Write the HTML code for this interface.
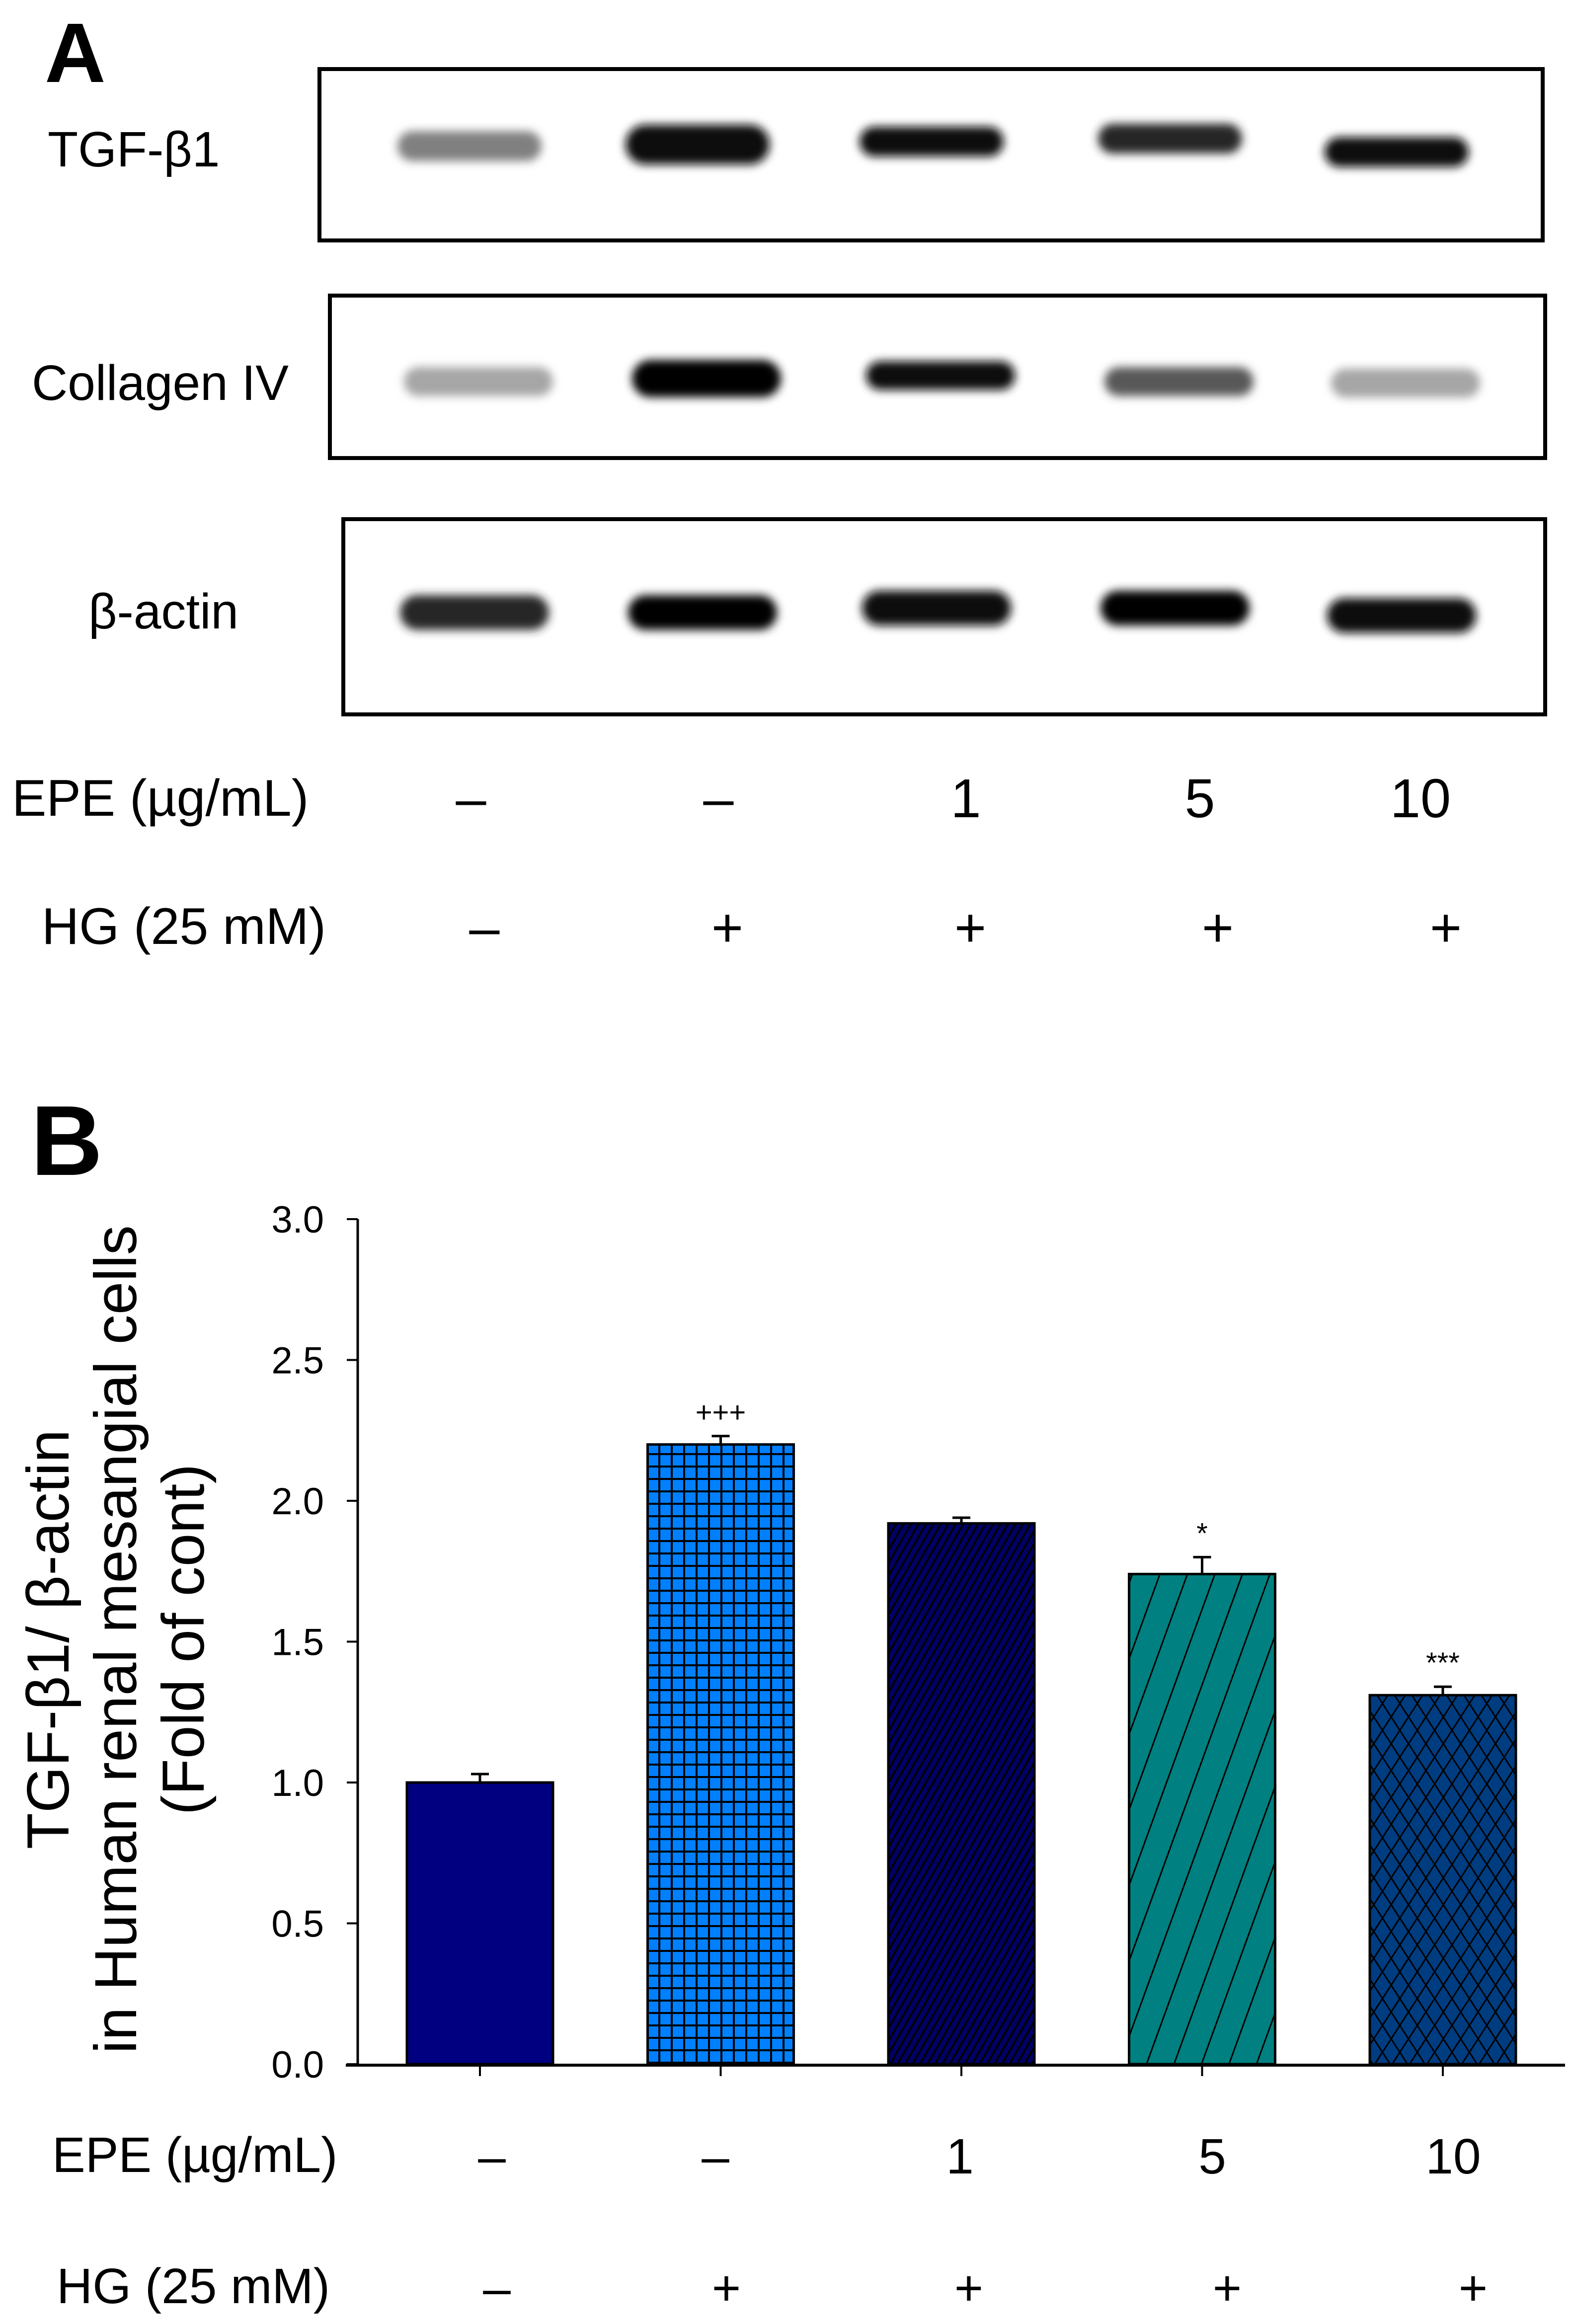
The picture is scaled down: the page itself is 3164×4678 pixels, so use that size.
<!DOCTYPE html>
<html><head><meta charset="utf-8"><style>
html,body{margin:0;padding:0;background:#fff}
svg{display:block}
text{font-family:"Liberation Sans",sans-serif;fill:#000}
.n{font-family:"Liberation Sans Narrow","Liberation Sans",sans-serif}
</style></head><body>
<svg id="fig" width="3164" height="4678" viewBox="0 0 3164 4678" xmlns="http://www.w3.org/2000/svg">
<defs>
<filter id="blur" x="-20%" y="-50%" width="140%" height="200%"><feGaussianBlur stdDeviation="9"/></filter>
<pattern id="pGrid" width="25" height="25" patternUnits="userSpaceOnUse"><rect width="25" height="25" fill="#0080ff"/><rect width="4" height="25" fill="#000"/><rect width="25" height="4" fill="#000"/></pattern>
<pattern id="pDense" width="13" height="13" patternUnits="userSpaceOnUse" patternTransform="rotate(30)"><rect width="13" height="13" fill="#000066"/><rect width="4" height="13" fill="#000"/></pattern>
<pattern id="pWide" width="52" height="52" patternUnits="userSpaceOnUse" patternTransform="rotate(20)"><rect width="52" height="52" fill="#008080"/><rect width="3" height="52" fill="#000"/></pattern>
<pattern id="pDiam" width="35" height="54" patternUnits="userSpaceOnUse"><rect width="35" height="54" fill="#003c80"/><path d="M0,0 L35,54 M35,0 L0,54" stroke="#000" stroke-width="3"/></pattern>
</defs>

<!-- Panel A -->
<text x="90" y="165" font-size="170" font-weight="bold">A</text>
<g>
<rect x="643" y="139" width="2462" height="345" fill="#fff" stroke="#000" stroke-width="8"/>
<text x="96" y="335" font-size="100" class="n">TGF-β1</text>
</g>
<g>
<rect x="664" y="595" width="2446" height="327" fill="#fff" stroke="#000" stroke-width="8"/>
<text x="64" y="805" font-size="100" class="n">Collagen IV</text>
</g>
<g>
<rect x="691" y="1045" width="2419" height="393" fill="#fff" stroke="#000" stroke-width="8"/>
<text x="178" y="1265" font-size="100" class="n">β-actin</text>
</g>
<g id="bands" filter="url(#blur)"></g>

<text x="24" y="1642" font-size="104" class="n">EPE  (µg/mL)</text>
<text x="84" y="1900" font-size="104" class="n">HG  (25 mM)</text>
<g id="topRows"></g>

<!-- Panel B -->
<text x="62" y="2365" font-size="200" font-weight="bold">B</text>
<g id="chart"></g>
<g>
<text transform="translate(138,3300) rotate(-90)" text-anchor="middle" font-size="120">TGF-β1/ β-actin</text>
<text transform="translate(274,3300) rotate(-90)" text-anchor="middle" font-size="120">in Human renal mesangial cells</text>
<text transform="translate(410,3300) rotate(-90)" text-anchor="middle" font-size="120">(Fold of cont)</text>
</g>
<text x="105" y="4372" font-size="100">EPE (µg/mL)</text>
<text x="114" y="4636" font-size="100">HG  (25 mM)</text>
<g id="botRows"></g>
</svg>
<script>
const categories = ["Control", "HG", "HG+EPE1", "HG+EPE5", "HG+EPE10"];
const values = [1.00, 2.20, 1.92, 1.74, 1.31];
const errors = [0.03, 0.03, 0.02, 0.06, 0.03];
const sigLabels = ["", "+++", "", "*", "***"];
const yTicks = [0.0, 0.5, 1.0, 1.5, 2.0, 2.5, 3.0];
const tickLabels = ["0.0", "0.5", "1.0", "1.5", "2.0", "2.5", "3.0"];
const epeLabels = ["–", "–", "1", "5", "10"];
const hgLabels = ["–", "+", "+", "+", "+"];
const fills = ["#000080", "url(#pGrid)", "url(#pDense)", "url(#pWide)", "url(#pDiam)"];
const tgfIntensity = [0.5, 0.95, 0.95, 0.85, 0.95];
const colIntensity = [0.35, 1.0, 0.95, 0.65, 0.35];
const actIntensity = [0.85, 1.0, 0.95, 1.0, 0.95];

const NS = "http://www.w3.org/2000/svg";
function mk(tag, attrs, parent){const e=document.createElementNS(NS,tag);for(const k in attrs)e.setAttribute(k,attrs[k]);parent.appendChild(e);return e;}

const Y0 = 4155, Y3 = 2454, VMAX = 3.0;
function yS(v){return Y0 - (v / VMAX) * (Y0 - Y3);}
const X0 = 966, STEP = 484.5;
function xS(i){return X0 + i * STEP;}
const BW = 294;

const chart = document.getElementById('chart');
const yAx = mk('line',{x1:720,y1:Y3,x2:720,y2:Y0+4,stroke:'#000','stroke-width':5},chart);


yTicks.forEach((t,i)=>{
  const tk = mk('line',{x1:698,y1:yS(t),x2:720,y2:yS(t),stroke:'#000','stroke-width':4},chart);
  
  
  const lb = mk('text',{x:652,y:yS(t)+27,'text-anchor':'end','font-size':76,'class':'n'},chart);
  lb.textContent = tickLabels[i];
  
  
});
const xAx = mk('line',{x1:696,y1:Y0+2,x2:3150,y2:Y0+2,stroke:'#000','stroke-width':6},chart);



values.forEach((v,i)=>{
  const cx = xS(i);
  const top = yS(v);
  const b = mk('rect',{x:cx-BW/2,y:top,width:BW,height:Y0-top,fill:fills[i],stroke:'#000','stroke-width':5},chart);
  
  
  const et = yS(v+errors[i]);
  const eb = mk('path',{d:`M${cx},${top} L${cx},${et} M${cx-18},${et} L${cx+18},${et}`,stroke:'#000','stroke-width':5,fill:'none'},chart);
  
  
  const tk = mk('line',{x1:cx,y1:Y0+2,x2:cx,y2:Y0+24,stroke:'#000','stroke-width':4},chart);
  
  
  if(sigLabels[i]){
    const s = mk('text',{x:cx,y:et-28,'text-anchor':'middle','font-size':58},chart);
    s.textContent = sigLabels[i];
    
    
  }
});

const bot = document.getElementById('botRows');
const botEpeX = [990, 1440, 1932, 2440, 2925];
const botHgX = [1000, 1462, 1950, 2470, 2965];
epeLabels.forEach((l,i)=>{
  const t = mk('text',{x:botEpeX[i],y:4375,'text-anchor':'middle','font-size':100},bot);
  t.textContent = l;
  
  
});
hgLabels.forEach((l,i)=>{
  const t = mk('text',{x:botHgX[i],y:4640,'text-anchor':'middle','font-size':100},bot);
  t.textContent = l;
  
  
});

const topG = document.getElementById('topRows');
const topEpeX = [948, 1446, 1944, 2415, 2859];
const topHgX = [975, 1464, 1953, 2451, 2910];
epeLabels.forEach((l,i)=>{
  const t = mk('text',{x:topEpeX[i],y:1645,'text-anchor':'middle','font-size':110,'class':'n'},topG);
  t.textContent = l;
  
  
});
hgLabels.forEach((l,i)=>{
  const t = mk('text',{x:topHgX[i],y:1905,'text-anchor':'middle','font-size':110,'class':'n'},topG);
  t.textContent = l;
  
  
});

const bands = document.getElementById('bands');
const laneX = [945, 1404, 1875, 2355, 2811];
const tgfY = [294, 291, 285, 279, 306];
const colY = [768, 762, 756, 768, 771];
const actY = [1233, 1233, 1224, 1224, 1239];
function band(x,y,intensity,w,h){
  const g = Math.round(255*(1-intensity));
  const r = mk('rect',{x:x-w/2,y:y-h/2,width:w,height:h,rx:h/2,fill:`rgb(${g},${g},${g})`},bands);
  
  
}
laneX.forEach((x,i)=>{
  band(x,tgfY[i],tgfIntensity[i],290,i===1?80:60);
  band(x+18,colY[i],colIntensity[i],300,i===1?75:58);
  band(x+10,actY[i],actIntensity[i],300,70);
});
</script>
</body></html>
